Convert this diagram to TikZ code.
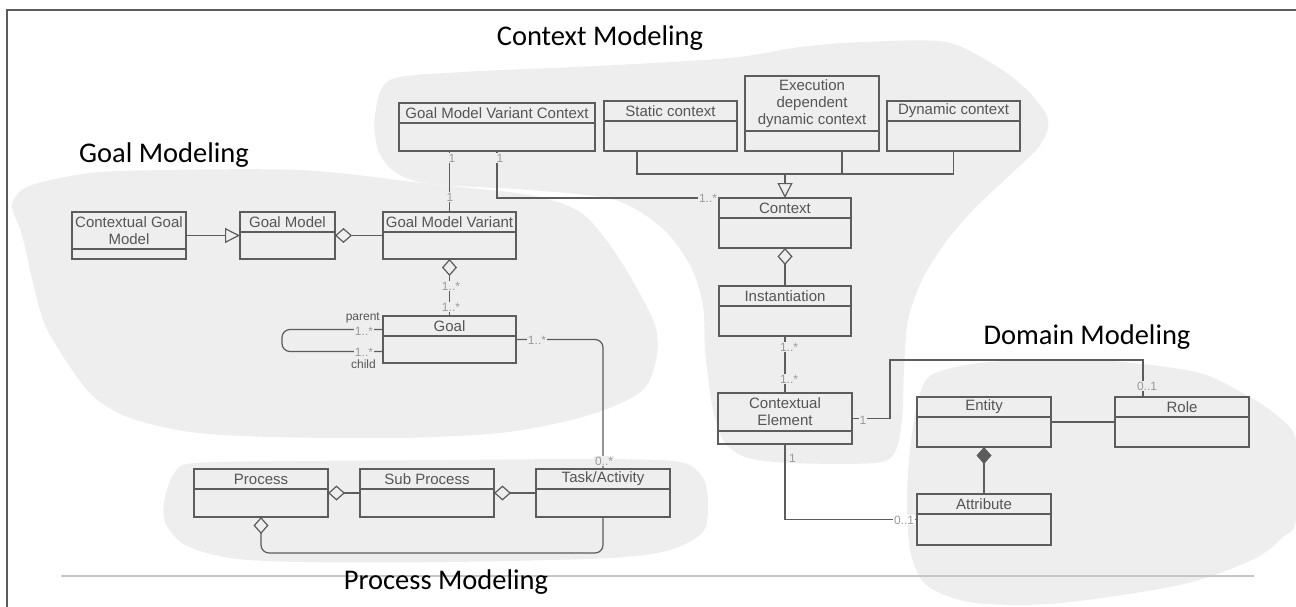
\documentclass[tikz,border=0pt]{standalone}
\usepackage{fontspec}
\setmainfont{Liberation Sans}
\newfontfamily\titlefont{Carlito}
\usetikzlibrary{arrows.meta}
\definecolor{blob}{HTML}{EEEEEE}
\definecolor{ink}{HTML}{5C5C5C}
\definecolor{txt}{HTML}{555555}
\definecolor{mult}{HTML}{9A9A9A}
\newcommand\umlclass[7]{%
  \node[clsbox, minimum width={#4-#2}, minimum height={#5-#3}, anchor=north west] (#1) at (#2,#3) {};
  \draw[clsline] (#2,#6) -- (#4,#6);
  \node[clstext] (#1-t) at ({(#2+#4)/2},{(#3+#6)/2}) {#7};
}
\begin{document}
\begin{tikzpicture}[x=1pt,y=-1pt,
  clsbox/.style={draw=ink, line width=1.2pt, inner sep=0pt, outer sep=0pt},
  clsline/.style={draw=ink, line width=1.2pt},
  clstext/.style={text=txt, font=\fontsize{15}{17}\selectfont, inner sep=0pt, align=center},
  conn/.style={draw=ink, line width=1.2pt},
  mlab/.style={text=mult, font=\fontsize{12}{13}\selectfont, inner sep=1pt, fill=blob},
  rlab/.style={text=txt, font=\fontsize{12}{13}\selectfont, inner sep=0pt},
  title/.style={font=\titlefont\fontsize{28.5}{30}\selectfont, inner sep=0pt},
  odia/.style={{Diamond[open,length=17pt,width=15pt]}-},
  fdia/.style={{Diamond[length=17pt,width=15pt]}-},
  gen/.style={-{Triangle[open,length=15pt,width=15pt]}}
]
\useasboundingbox (0,0) rectangle (1296,607);
% region blobs
\fill[blob] plot[smooth cycle, tension=0.5] coordinates {(390,80) (463,72) (597,66) (730,58) (800,47) (863,42) (946,42) (996,66) (1025,88) (1045,112) (1048,128) (1038,148) (1010,175) (975,208) (945,243) (922,280) (908,320) (904,370) (902,420) (895,452) (875,463) (790,463) (745,457) (723,440) (712,405) (705,350) (703,305) (690,265) (662,228) (615,200) (530,190) (430,184) (395,172) (378,150) (375,115)};
\fill[blob] plot[smooth cycle, tension=0.5] coordinates {(12,205) (25,188) (60,178) (120,171) (300,170) (430,184) (530,195) (580,212) (610,245) (635,285) (655,325) (657,355) (645,388) (612,407) (567,421) (500,433) (400,438) (270,437) (190,432) (130,418) (95,398) (70,367) (45,325) (33,283) (22,235)};
\fill[blob] plot[smooth cycle, tension=0.5] coordinates {(165,497) (175,472) (195,463) (300,461) (450,460) (600,459) (680,462) (703,478) (708,505) (703,532) (670,550) (610,558) (450,562) (300,562) (230,558) (185,545) (165,522)};
\fill[blob] plot[smooth cycle, tension=0.5] coordinates {(918,400) (933,374) (990,362) (1096,360) (1196,372) (1246,395) (1275,414) (1296,440) (1296,520) (1283,537) (1256,558) (1196,581) (1129,594) (1050,604) (985,604) (950,597) (923,582) (910,550) (907,500) (910,450)};
% frame
\draw[gray!45, line width=1.2pt] (61,576) -- (1254,576);
\draw[ink, line width=1.5pt] (1296,10) -- (7,10) -- (7,607);
% titles
\node[title] (tctx) at (600,38) {Context Modeling};
\node[title] (tgoal) at (164,155) {Goal Modeling};
\node[title] (tdom) at (1087,337) {Domain Modeling};
\node[title] (tproc) at (446,582) {Process Modeling};
% classes
\umlclass{gmvc}{399}{103}{595}{151}{123}{Goal Model Variant Context}
\umlclass{stat}{604}{101}{737}{151}{121}{Static context}
\umlclass{exec}{745}{76}{879}{151}{131}{Execution\\dependent\\dynamic context}
\umlclass{dyn}{887}{101}{1020}{151}{121}{Dynamic context}
\umlclass{ctx}{719}{198}{851}{248}{218}{Context}
\umlclass{inst}{719}{286}{851}{336}{306}{Instantiation}
\umlclass{ce}{718}{393}{852}{444}{431}{Contextual\\Element}
\umlclass{ent}{917}{397}{1051}{447}{417}{Entity}
\umlclass{role}{1115}{397}{1249}{447}{417}{Role}
\umlclass{attr}{917}{494}{1051}{545}{514}{Attribute}
\umlclass{cgm}{72}{212}{186}{259}{249}{Contextual Goal\\Model}
\umlclass{gm}{240}{212}{335}{259}{232}{Goal Model}
\umlclass{gmv}{383}{212}{516}{259}{232}{Goal Model Variant}
\umlclass{goal}{383}{316}{516}{363}{336}{Goal}
\umlclass{proc}{194}{469}{328}{517}{489}{Process}
\umlclass{sub}{360}{469}{494}{517}{489}{Sub Process}
\umlclass{task}{536}{469}{670}{517}{489}{Task/Activity}
% generalization of contexts
\coordinate (sj) at (637,151);
\coordinate (ej) at (842,151);
\draw[conn] (sj) -- ++(0,23) -| (dyn.south);
\draw[conn] (ej) -- ++(0,23);
\draw[conn, gen] (ctx.north) ++(0,-24) -- (ctx.north);
% goal model variant context links
\draw[conn] (gmv.north) -- (gmv.north |- gmvc.south);
\node[mlab] (m1) at (452,158) {1};
\node[mlab] (m2) at (450,197) {1};
\draw[conn] (gmvc.south) |- (ctx.north west);
\node[mlab] (m3) at (500,158) {1};
\node[mlab] (m4) at (708,198) {1..*};
% goal modeling
\draw[conn, gen] (cgm.east) -- (gm.west);
\draw[conn, odia] (gm.east) -- (gmv.west);
\draw[conn, odia] (gmv.south) -- (goal.north);
\node[mlab] (m5) at (451,286) {1..*};
\node[mlab] (m6) at (451,307) {1..*};
\draw[conn, rounded corners=8pt] ([yshift=10pt]goal.west) -- ++(-101,0) -- ++(0,22) -- ([yshift=-12pt]goal.west);
\node[mlab] (m7) at (364,331) {1..*};
\node[mlab] (m8) at (364,352) {1..*};
\node[rlab, anchor=east] (rp) at (380,318) {parent};
\node[rlab, anchor=east] (rc) at (376,364) {child};
\draw[conn, rounded corners=8pt] (goal.east) -| (task.north);
\node[mlab] (m9) at (537,340) {1..*};
\node[mlab] (m10) at (604,461) {0..*};
% process modeling
\draw[conn, odia] (proc.east) -- (sub.west);
\draw[conn, odia] (sub.east) -- (task.west);
\draw[conn, odia, rounded corners=8pt] (proc.south) -- ++(0,36) -| (task.south);
% context chain
\draw[conn, odia] (ctx.south) -- (inst.north);
\draw[conn] (inst.south) -- (ce.north);
\node[mlab] (m11) at (789,347) {1..*};
\node[mlab] (m12) at (789,379) {1..*};
% domain modeling
\coordinate (ceR) at (890,360);
\draw[conn] (ce.east) -| (ceR) -| ([xshift=-39pt]role.north);
\node[mlab] (m13) at (863,420) {1};
\node[mlab] (m14) at (1147,386) {0..1};
\draw[conn] (ce.south) |- (attr.west);
\node[mlab, fill=none, anchor=west] (m15) at (788,458) {1};
\node[mlab, fill=white] (m16) at (904,520) {0..1};
\draw[conn, fdia] (ent.south) -- (attr.north);
\draw[conn] (ent.east) -- (role.west);
\end{tikzpicture}
\end{document}
